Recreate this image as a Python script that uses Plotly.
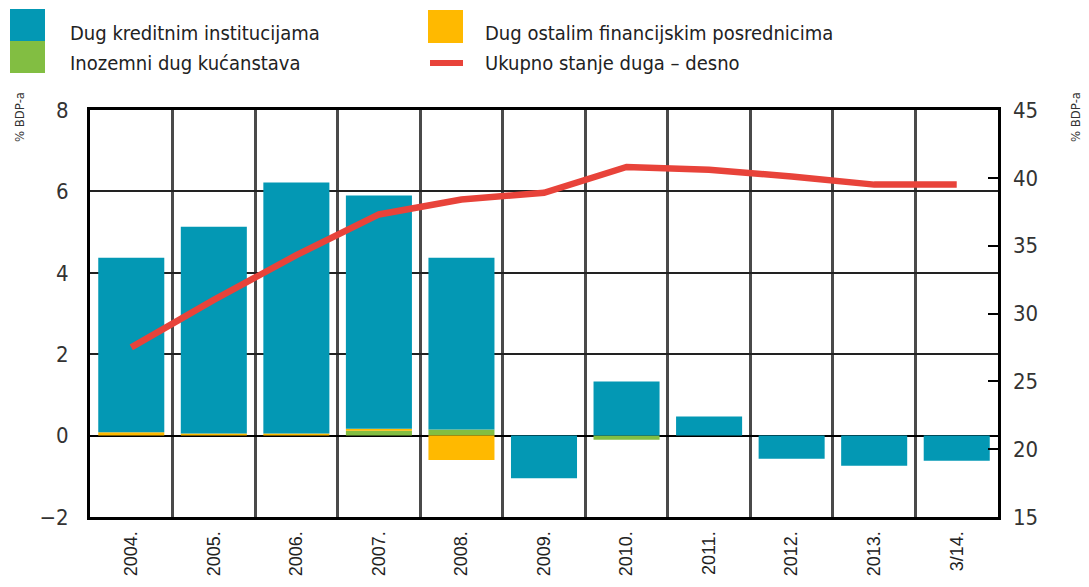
import plotly.graph_objects as go

categories = ["2004.", "2005.", "2006.", "2007.", "2008.", "2009.", "2010.", "2011.", "2012.", "2013.", "3/14."]
dug_kreditnim = [4.29, 5.08, 6.17, 5.73, 4.22, -1.05, 1.33, 0.47, -0.57, -0.74, -0.62]
dug_ostalim = [0.08, 0.05, 0.05, 0.05, -0.6, 0.0, 0.0, 0.0, 0.0, 0.0, 0.0]
inozemni_dug = [0.0, 0.0, 0.0, 0.12, 0.15, 0.0, -0.1, 0.0, 0.0, 0.0, 0.0]
ukupno_stanje = [27.5, 31.0, 34.3, 37.3, 38.4, 38.9, 40.8, 40.6, 40.1, 39.5, 39.5]

left_ticks = [-2, 0, 2, 4, 6, 8]
right_ticks = [15, 20, 25, 30, 35, 40, 45]

TEAL = "#0398B4"
ORANGE = "#FFB900"
GREEN = "#82BE42"
RED = "#E8433A"
FONT = "DejaVu Sans Condensed, DejaVu Sans, sans-serif"

OFF = 8  # page body margin in the browser
W, H = 1089 - OFF, 587 - OFF
L, R, T, B = 90 - OFF, 998 - OFF, 110 - OFF, 517 - OFF

def px(x):
    return (x - OFF - L) / (R - L)

def py(y):
    return (B - (y - OFF)) / (B - T)

fig = go.Figure()
fig.add_trace(go.Bar(x=categories, y=inozemni_dug, marker_color=GREEN, width=0.8,
                     name="Inozemni dug kućanstava", marker_line_width=0))
fig.add_trace(go.Bar(x=categories, y=dug_ostalim, marker_color=ORANGE, width=0.8,
                     name="Dug ostalim financijskim posrednicima", marker_line_width=0))
fig.add_trace(go.Bar(x=categories, y=dug_kreditnim, marker_color=TEAL, width=0.8,
                     name="Dug kreditnim institucijama", marker_line_width=0))
fig.add_trace(go.Scatter(x=categories, y=ukupno_stanje, yaxis="y2", mode="lines",
                         line=dict(color=RED, width=6.5), name="Ukupno stanje duga – desno"))

shapes = [
    dict(type="rect", xref="paper", yref="paper", x0=px(10), x1=px(45), y0=py(41), y1=py(9),
         fillcolor=TEAL, line_width=0),
    dict(type="rect", xref="paper", yref="paper", x0=px(10), x1=px(45), y0=py(73), y1=py(41),
         fillcolor=GREEN, line_width=0),
    dict(type="rect", xref="paper", yref="paper", x0=px(428), x1=px(463), y0=py(43), y1=py(10),
         fillcolor=ORANGE, line_width=0),
    dict(type="line", xref="paper", yref="paper", x0=px(430), x1=px(463), y0=py(63), y1=py(63),
         line=dict(color=RED, width=6)),
]

annotations = []
for text, x, y in [("Dug kreditnim institucijama", 68, 33),
                   ("Inozemni dug kućanstava", 68, 63),
                   ("Dug ostalim financijskim posrednicima", 483, 33),
                   ("Ukupno stanje duga – desno", 483, 63)]:
    annotations.append(dict(text=text, xref="paper", yref="paper", x=px(x), y=py(y),
                            xanchor="left", yanchor="middle", showarrow=False,
                            font=dict(family=FONT, size=20, color="#222")))
for x in (20, 1076):
    annotations.append(dict(text="% BDP-a", xref="paper", yref="paper", x=px(x), y=py(117),
                            xanchor="center", yanchor="middle", showarrow=False, textangle=-90,
                            font=dict(family=FONT, size=13, color="#333")))

fig.update_layout(
    width=W, height=H,
    margin=dict(l=L, r=W - R, t=T, b=H - B),
    paper_bgcolor="white", plot_bgcolor="white",
    barmode="relative", bargap=0.2,
    showlegend=False,
    shapes=shapes, annotations=annotations,
    xaxis=dict(type="category", tickson="boundaries", showgrid=True, gridcolor="#4a4a4a",
               gridwidth=2.5, ticks="", tickangle=-90, ticklabelstandoff=4, automargin=False,
               tickfont=dict(family="Liberation Sans, Arial, sans-serif", size=18, color="#222"),
               showline=True, linecolor="black", linewidth=3, mirror=True),
    yaxis=dict(range=[-2, 8], tickvals=left_ticks, showgrid=True, gridcolor="#222", gridwidth=2,
               zeroline=True, zerolinecolor="black", zerolinewidth=2, automargin=False,
               tickfont=dict(family=FONT, size=22, color="#333"), ticks="",
               showline=True, linecolor="black", linewidth=3, mirror=True, ticklabelstandoff=14),
    yaxis2=dict(range=[15, 45], tickvals=right_ticks, overlaying="y", side="right",
                showgrid=False, zeroline=False, ticks="inside", ticklen=10, tickwidth=2,
                tickcolor="black", tickfont=dict(family=FONT, size=22, color="#333"),
                ticklabelstandoff=14, automargin=False),
)

fig.write_html("out.html")
